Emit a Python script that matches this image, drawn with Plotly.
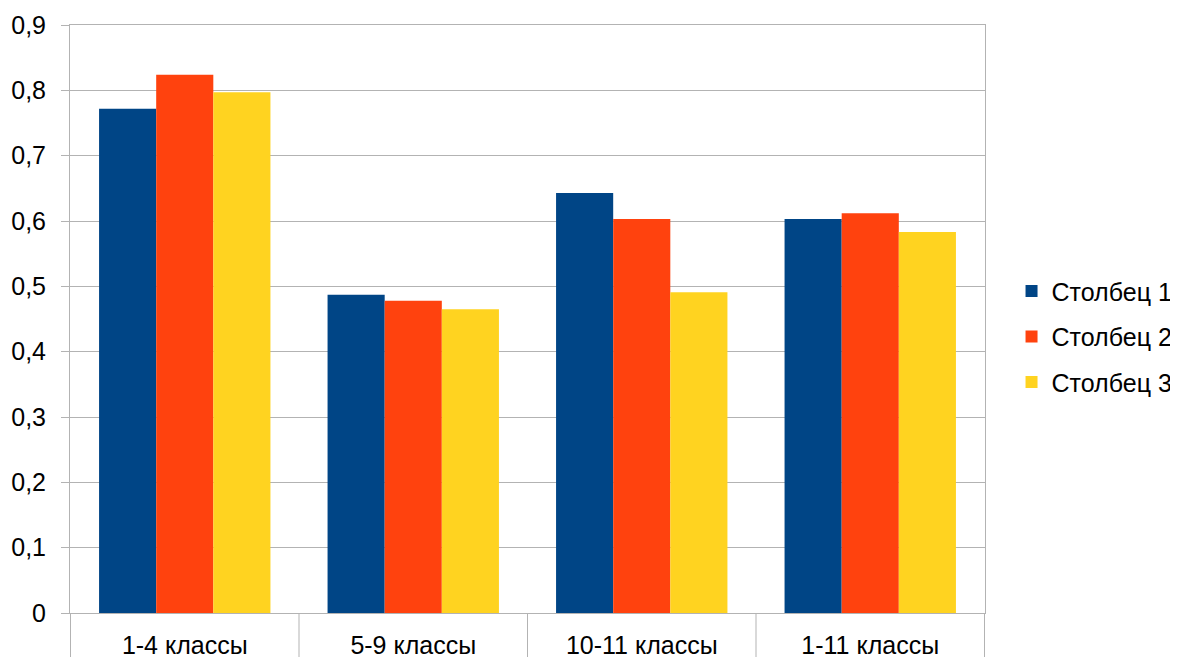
import plotly.graph_objects as go

categories = ["1-4 классы", "5-9 классы", "10-11 классы", "1-11 классы"]
series_names = ["Столбец 1", "Столбец 2", "Столбец 3"]
s1 = [0.772, 0.487, 0.643, 0.603]
s2 = [0.824, 0.478, 0.603, 0.612]
s3 = [0.797, 0.465, 0.491, 0.583]
colors = ["#004586", "#ff420e", "#ffd320"]
y_ticks = [0, 0.1, 0.2, 0.3, 0.4, 0.5, 0.6, 0.7, 0.8, 0.9]

fig = go.Figure()
for i, (name, vals) in enumerate(zip(series_names, [s1, s2, s3])):
    fig.add_trace(go.Bar(x=categories, y=vals, name=name, legendgroup=name,
                         marker=dict(color=colors[i], line=dict(width=0))))

font = "Liberation Sans, Arial, sans-serif"
shapes = []
for k in range(len(categories) + 1):
    shapes.append(dict(type="line", xref="x", yref="paper", x0=k - 0.5, x1=k - 0.5,
                       y0=0, y1=-0.1, line=dict(color="#b3b3b3", width=1)))

fig.update_layout(
    width=1170, height=649,
    margin=dict(l=62, r=193, t=17, b=44, autoexpand=False),
    paper_bgcolor="white", plot_bgcolor="white",
    separators=", ",
    barmode="group", bargap=0.25, bargroupgap=0,
    font=dict(family=font, size=25, color="#000000"),
    showlegend=True,
    legend=dict(x=1.029, y=0.47, yanchor="middle", xanchor="left",
                font=dict(size=25), tracegroupgap=10, itemwidth=30),
    shapes=shapes,
    xaxis=dict(showline=True, linecolor="#b3b3b3", linewidth=1, mirror=True,
               ticks="outside", ticklen=10, tickcolor="rgba(0,0,0,0)",
               tickfont=dict(size=25), showgrid=False, automargin=False),
    yaxis=dict(range=[0, 0.9], tickvals=y_ticks, showline=True, linecolor="#b3b3b3",
               linewidth=1, mirror=True, showgrid=True, gridcolor="#b3b3b3", gridwidth=1,
               ticks="outside", ticklen=8, tickcolor="#b3b3b3", tickfont=dict(size=25),
               ticklabelstandoff=10, zeroline=False, automargin=False),
)

fig.write_html("out.html")
